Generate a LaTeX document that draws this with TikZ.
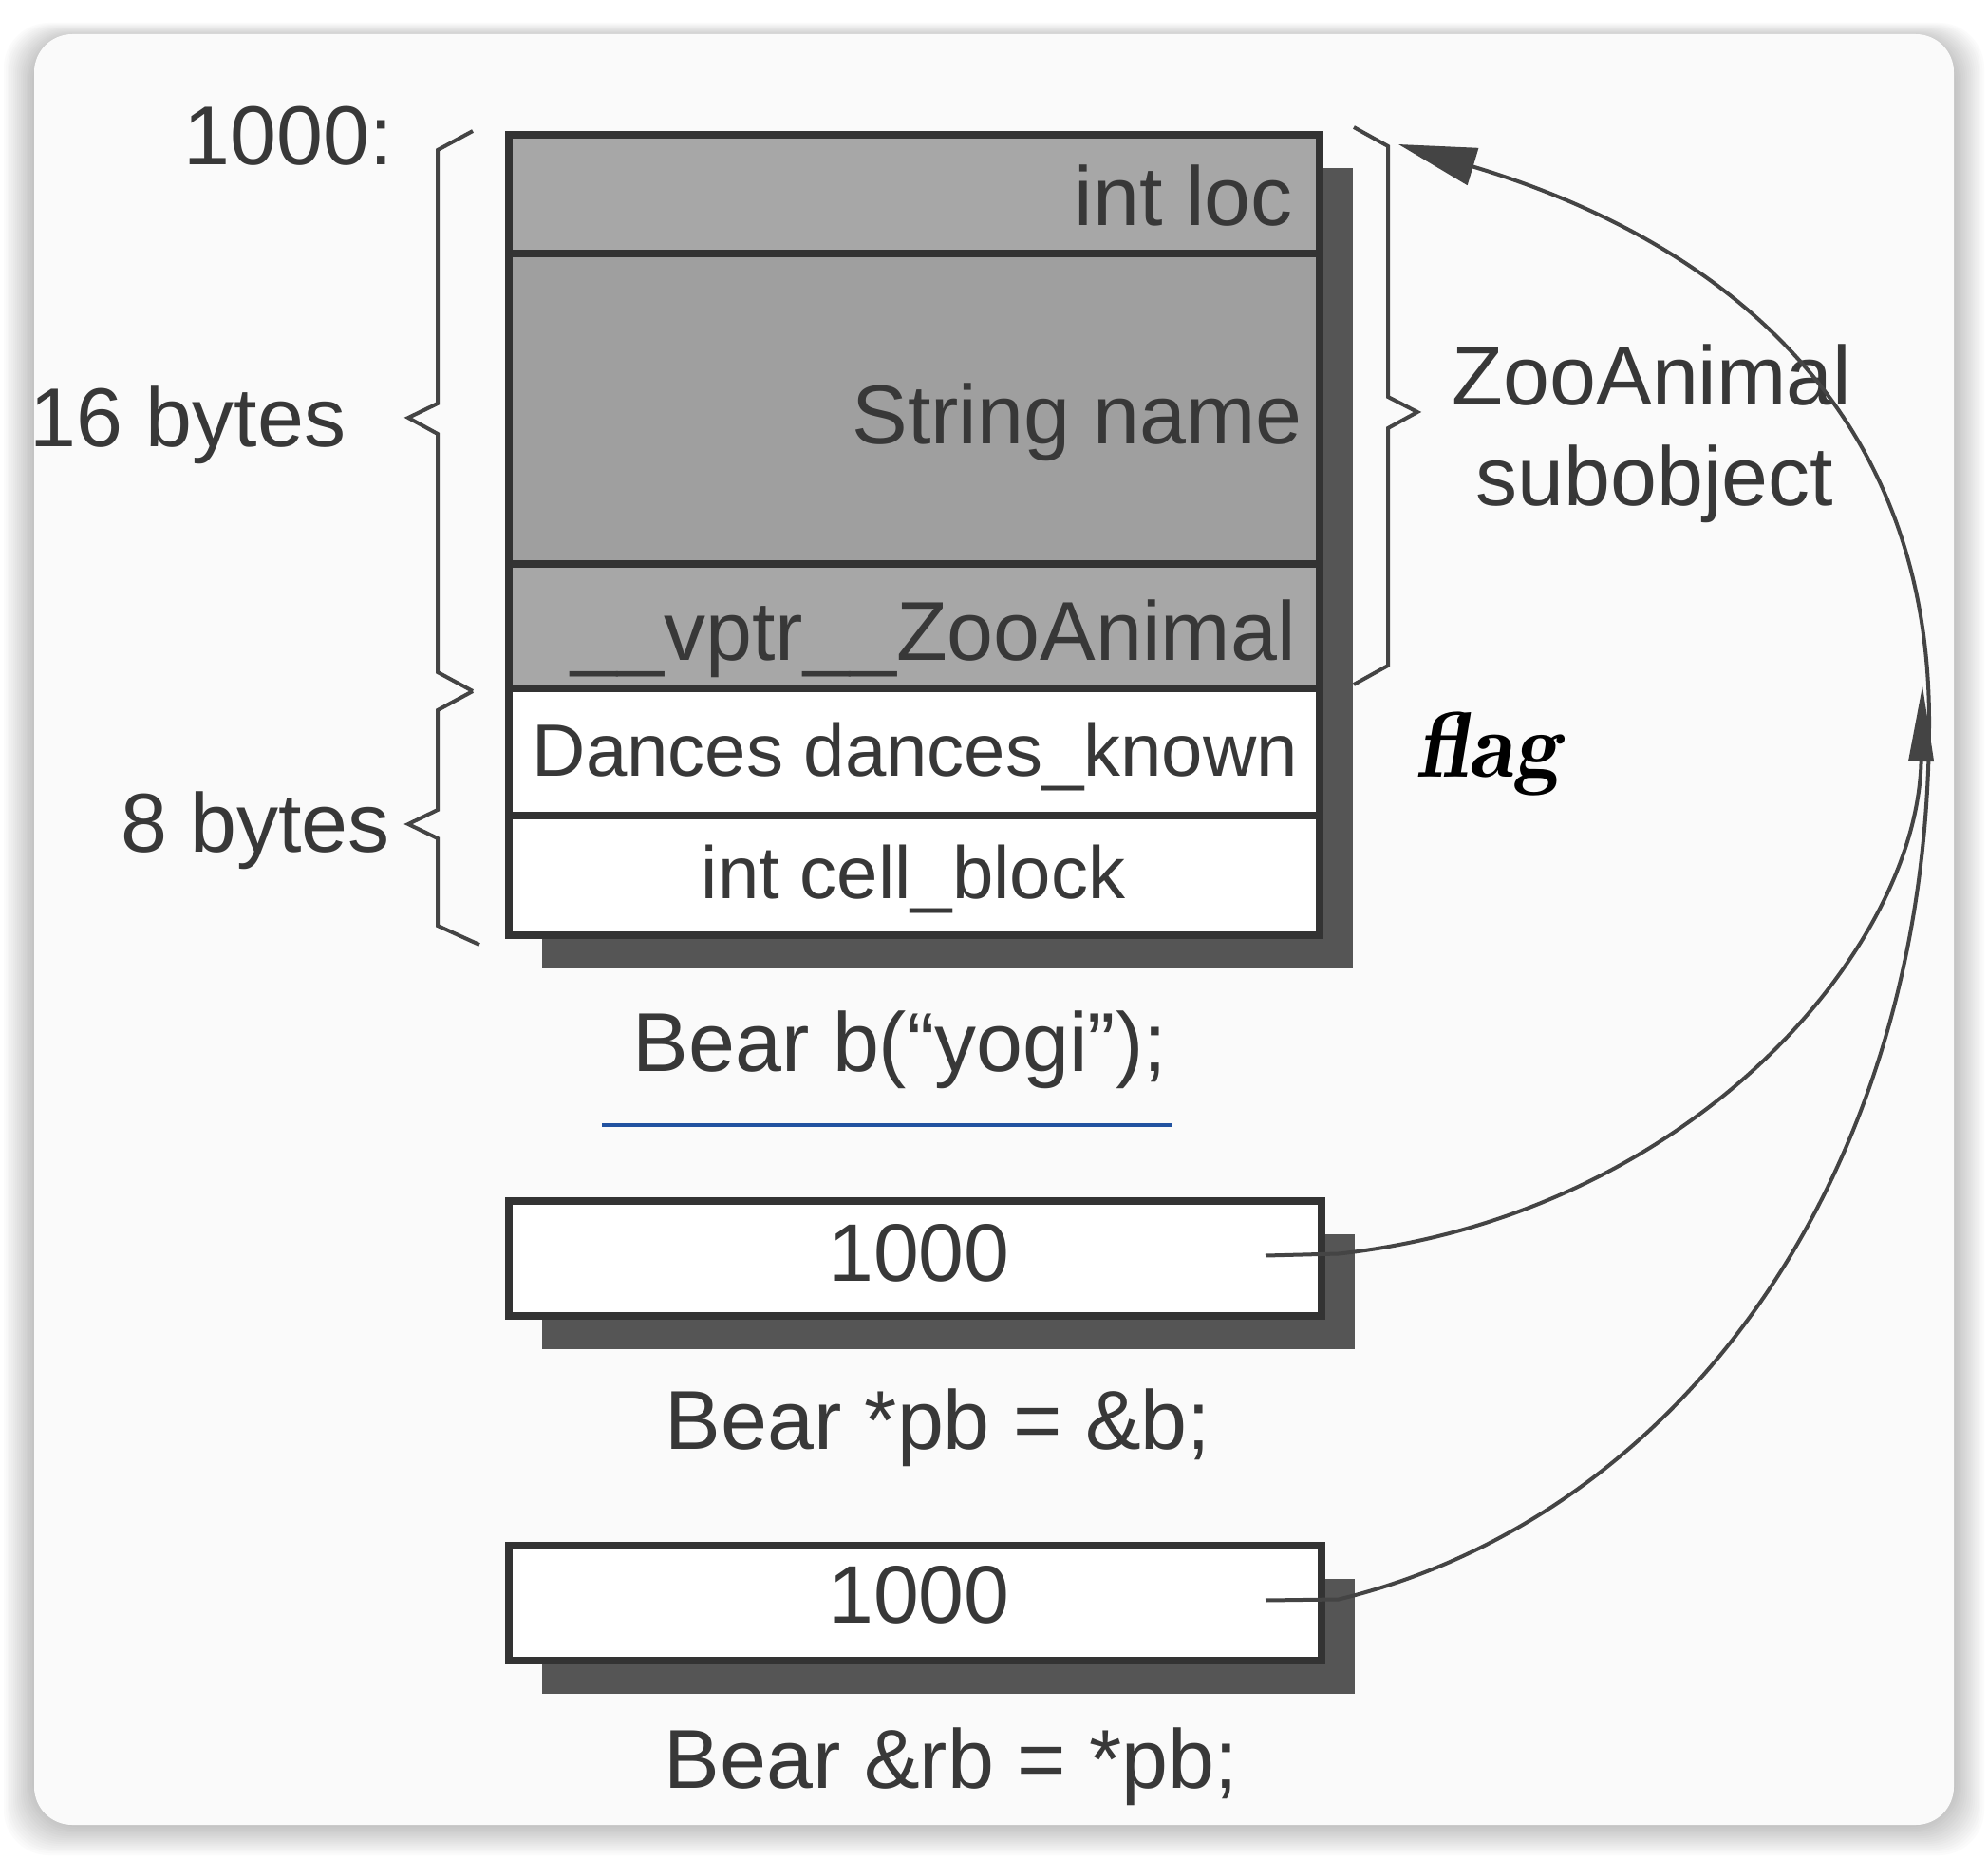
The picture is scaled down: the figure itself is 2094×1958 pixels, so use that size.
\documentclass[tikz,border=0pt]{standalone}
\usepackage{fontspec}
\setmainfont{Liberation Sans}
\usetikzlibrary{arrows.meta,calc}
\definecolor{ink}{HTML}{333333}
\definecolor{txt}{HTML}{383838}
\definecolor{rowgray}{HTML}{A7A7A7}
\definecolor{boxshadow}{HTML}{555555}
\definecolor{cardbg}{HTML}{FAFAFA}
\definecolor{uline}{HTML}{2152A0}
\definecolor{arr}{HTML}{444444}
\definecolor{shadowdark}{HTML}{C4C4C4}
\begin{document}
\begin{tikzpicture}[x=1pt,y=-1pt,
  cell/.style={draw=ink, line width=8pt, minimum width=854pt, inner sep=0pt, outer sep=0pt},
  grayrow/.style={cell, fill=rowgray},
  whiterow/.style={cell, fill=white},
  ptrbox/.style={cell, fill=white, minimum width=856pt, minimum height=121pt},
  lbl/.style={text=txt, inner sep=0pt, font=\fontsize{88}{100}\selectfont},
  sml/.style={text=txt, inner sep=0pt, font=\fontsize{78}{90}\selectfont},
  num/.style={text=txt, inner sep=0pt, font=\fontsize{86}{96}\selectfont},
  bracepath/.style={draw=arr, line width=4pt, line join=miter},
  conn/.style={draw=arr, line width=4pt},
  dropfill/.style={fill=boxshadow},
]
% page and card
\fill[white] (0,0) rectangle (2094,1958);
\foreach \i in {16,15,...,1}{
  \pgfmathsetmacro{\mix}{100*(\i-1)/16}
  \fill[white!\mix!shadowdark,rounded corners=48pt] (36-2*\i,36-1*\i+4) rectangle (2058+2*\i,1922+2*\i);
}
\fill[cardbg,rounded corners=40pt] (36,36) rectangle (2058,1922);

% drop shadows of the boxes
\path[dropfill] (571,177) rectangle (1425,1020);
\path[dropfill] (571,1300) rectangle (1427,1421);
\path[dropfill] (571,1663) rectangle (1427,1784);

% main object rows
\node[grayrow, minimum height=125pt] (rloc) at (963,204.5) {};
\node[grayrow, minimum height=327pt, fill=rowgray!95!black] (rname) at (963,430.5) {};
\node[grayrow, minimum height=131pt] (rvptr) at (963,659.5) {};
\node[whiterow, minimum height=134pt] (rdance) at (963,792) {};
\node[whiterow, minimum height=126pt] (rcell) at (963,922) {};

% pointer / reference boxes
\node[ptrbox] (box2) at (964,1325.5) {};
\node[ptrbox] (box3) at (964,1688.5) {};

% texts
\node[lbl, anchor=base east] (taddr) at (414,174) {1000:};
\node[lbl, anchor=base east] (tloc) at (1362,238) {int loc};
\node[lbl, anchor=base east] (tname) at (1372,467) {String name};
\node[lbl, anchor=base east] (tvptr) at (1365,695) {\_\_vptr\_\_ZooAnimal};
\node[sml, anchor=base] (tdance) at (964,817) {Dances dances\_known};
\node[sml, anchor=base] (tcell) at (962,946) {int cell\_block};
\node[lbl, anchor=base] (tbear) at (948,1128) {Bear b(“yogi”);};
\node[num, anchor=base] (tv2) at (968,1349) {1000};
\node[lbl, anchor=base] (tpb) at (988,1526) {Bear *pb = \&b;};
\node[num, anchor=base] (tv3) at (968,1709) {1000};
\node[lbl, anchor=base] (trb) at (1002,1883) {Bear \&rb = *pb;};
\node[lbl, anchor=base] (t16) at (198,470) {16 bytes};
\node[lbl, anchor=base east] (t8) at (411,897) {8 bytes};
\node[lbl, anchor=base] (tzoo) at (1740,427) {ZooAnimal};
\node[lbl, anchor=base] (tsub) at (1743,532) {subobject};
\node[inner sep=0pt, anchor=base, text=black, font=\fontfamily{lmr}\fontseries{b}\fontshape{it}\fontsize{98}{110}\selectfont] (tflag) at (1568,818) {flag};

% blue underline
\draw[uline, line width=4pt] (634,1185) -- (1235,1185);

% braces
\draw[bracepath] (498,138) -- (461,158) -- (461,425) -- (430,440) -- (461,457) -- (461,708) -- (498,728);
\draw[bracepath] (498,728) -- (461,748) -- (461,853) -- (430,868) -- (461,883) -- (461,975) -- (505,995);
\draw[bracepath] (1426,134) -- (1462,154) -- (1462,418) -- (1493,434) -- (1462,451) -- (1462,701) -- (1426,721);

% connectors
\coordinate (p2) at ($(box2.east)+(-59,-3)$);
\coordinate (p3) at ($(box3.east)+(-59,-3)$);
\coordinate (tip) at (1473,152);
\coordinate (tipb) at (2025,722);
\draw[conn, -{Triangle[length=82pt,width=40pt]}] (p3) -- +(77,-1) .. controls (1760,1600) and (2032,1250) .. (2032,760) .. controls (2032,420) and (1800,250) .. (tip);
\draw[conn, -{Triangle[length=80pt,width=26pt]}] (p2) -- +(77,-2) .. controls (1780,1280) and (2020,1000) .. (tipb);
\end{tikzpicture}
\end{document}
